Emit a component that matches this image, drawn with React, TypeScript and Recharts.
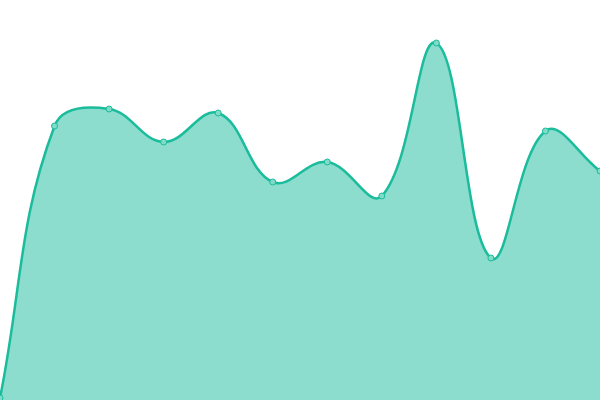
import React from 'react';
import { AreaChart, Area, XAxis, YAxis } from 'recharts';

const categories = ['1', '2', '3', '4', '5', '6', '7', '8', '9', '10', '11', '12'];
const values = [2, 274, 291, 258, 287, 218, 238, 204, 357, 142, 269, 229];

const data = categories.map((c, i) => ({ name: c, value: values[i] }));

// Cardinal-like spline (tension-weighted by segment length), endpoints use themselves as control points
function makeSpline(t: number) {
  return function (context: any) {
    let xs: number[] = [];
    let ys: number[] = [];
    let line = NaN;
    return {
      areaStart() { line = 0; },
      areaEnd() { line = NaN; },
      lineStart() { xs = []; ys = []; },
      lineEnd() {
        const n = xs.length;
        if (n) {
          if (line) context.lineTo(xs[0], ys[0]);
          else context.moveTo(xs[0], ys[0]);
          const pX: number[] = [], pY: number[] = [], nX: number[] = [], nY: number[] = [];
          for (let i = 0; i < n; i++) {
            const ip = i === 0 ? i : i - 1;
            const inx = i === n - 1 ? i : i + 1;
            const d01 = Math.hypot(xs[i] - xs[ip], ys[i] - ys[ip]);
            const d12 = Math.hypot(xs[inx] - xs[i], ys[inx] - ys[i]);
            let s01 = d01 / (d01 + d12);
            let s12 = d12 / (d01 + d12);
            if (isNaN(s01)) s01 = 0;
            if (isNaN(s12)) s12 = 0;
            const fa = t * s01;
            const fb = t * s12;
            const vx = xs[inx] - xs[ip];
            const vy = ys[inx] - ys[ip];
            pX[i] = xs[i] - fa * vx; pY[i] = ys[i] - fa * vy;
            nX[i] = xs[i] + fb * vx; nY[i] = ys[i] + fb * vy;
          }
          for (let i = 0; i < n - 1; i++) {
            context.bezierCurveTo(nX[i], nY[i], pX[i + 1], pY[i + 1], xs[i + 1], ys[i + 1]);
          }
        }
        if (line || (line !== 0 && n === 1)) context.closePath();
        line = 1 - line;
      },
      point(x: number, y: number) { xs.push(+x); ys.push(+y); },
    };
  };
}

const spline = makeSpline(0.4);

export default function App() {
  return (
    <div style={{ position: 'absolute', left: 0, top: 0, width: 600, height: 400 }}>
      <AreaChart width={600} height={400} data={data} margin={{ top: 0, right: 0, bottom: 0, left: 0 }}>
        <XAxis dataKey="name" hide />
        <YAxis hide domain={[0, 400]} />
        <Area
          type={spline as any}
          dataKey="value"
          stroke="#1abc9c"
          strokeWidth={2.5}
          fill="#1abc9c"
          fillOpacity={0.5}
          dot={{ r: 3, fill: '#80dcc9', stroke: '#1abc9c', strokeWidth: 1, fillOpacity: 1 }}
          activeDot={false}
          isAnimationActive={false}
        />
      </AreaChart>
    </div>
  );
}
